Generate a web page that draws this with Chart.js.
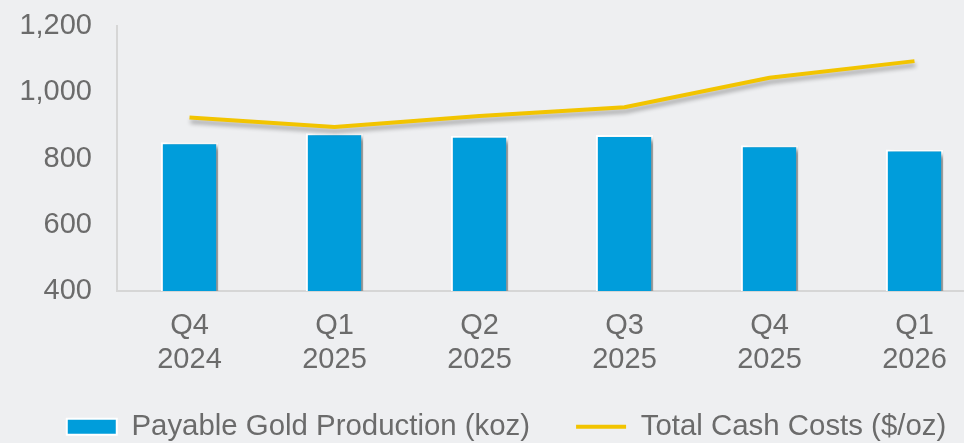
<!DOCTYPE html>
<html>
<head>
<meta charset="utf-8">
<script src="https://cdn.jsdelivr.net/npm/chart.js@4.4.1/dist/chart.umd.min.js"></script>
<style>
  html, body { margin: 0; padding: 0; background: #eeeff1; overflow: hidden; width: 964px; height: 443px; }
  #wrap { position: absolute; left: 0; top: 0; width: 1012px; height: 443px; }
</style>
</head>
<body>
<div id="wrap"><canvas id="c" width="1012" height="443"></canvas></div>
<script>
const categories = [['Q4', '2024'], ['Q1', '2025'], ['Q2', '2025'], ['Q3', '2025'], ['Q4', '2025'], ['Q1', '2026']];
const goldProduction = [849, 876, 869, 871, 840, 827];
const cashCosts = [924, 895, 928, 955, 1044, 1094];
const yTicks = [400, 600, 800, 1000, 1200];

const shadowPlugin = {
  id: 'shadows',
  beforeDatasetDraw(chart, args) {
    const ctx = chart.ctx;
    ctx.save();
    if (args.meta.type === 'bar') {
      ctx.shadowColor = 'rgba(0,0,0,0.45)';
      ctx.shadowBlur = 5;
      ctx.shadowOffsetX = 5;
      ctx.shadowOffsetY = 3;
    } else {
      ctx.shadowColor = 'rgba(0,0,0,0.3)';
      ctx.shadowBlur = 4;
      ctx.shadowOffsetX = 1;
      ctx.shadowOffsetY = 4;
    }
  },
  afterDatasetDraw(chart) {
    chart.ctx.restore();
  }
};

const legendPlace = {
  id: 'legendPlace',
  afterLayout(chart) {
    const lg = chart.legend;
    if (!lg) return;
    lg.top = 366;
    lg.bottom = 443;
    lg.left += 13;
    lg.right += 13;
  }
};

const textColor = '#6b6b6b';
const family = '"Liberation Sans", Arial, sans-serif';

new Chart(document.getElementById('c'), {
  type: 'bar',
  data: {
    labels: categories,
    datasets: [
      {
        type: 'bar',
        label: 'Payable Gold Production (koz)',
        data: goldProduction,
        backgroundColor: '#009ddb',
        borderColor: '#ffffff',
        borderWidth: 2,
        borderSkipped: false,
        barPercentage: 0.395,
        categoryPercentage: 1,
        order: 0
      },
      {
        type: 'line',
        label: 'Total Cash Costs ($/oz)',
        data: cashCosts,
        borderColor: '#f2c400',
        backgroundColor: '#f2c400',
        borderWidth: 4,
        pointRadius: 0,
        tension: 0,
        order: -1
      }
    ]
  },
  plugins: [shadowPlugin, legendPlace],
  options: {
    responsive: false,
    animation: false,
    devicePixelRatio: 1,
    layout: { padding: { top: 26, right: 25, left: 0, bottom: 0 } },
    plugins: {
      tooltip: { enabled: false },
      legend: {
        position: 'bottom',
        maxHeight: 40,
        labels: {
          color: textColor,
          font: { family: family, size: 29.4, lineHeight: 1 },
          usePointStyle: true,
          pointStyleWidth: 50,
          boxHeight: 16,
          padding: 46,
          generateLabels(chart) {
            return chart.data.datasets.map((ds, i) => ({
              text: ds.label,
              fillStyle: ds.backgroundColor,
              strokeStyle: ds.type === 'bar' ? '#ffffff' : ds.borderColor,
              lineWidth: ds.type === 'bar' ? 2 : 4,
              pointStyle: ds.type === 'bar' ? 'rect' : 'line',
              fontColor: textColor,
              hidden: false,
              datasetIndex: i
            }));
          }
        }
      }
    },
    scales: {
      x: {
        grid: { color: 'transparent', drawTicks: false },
        border: { display: true, color: '#d6d6d6', width: 2 },
        ticks: { color: textColor, font: { family: family, size: 29, lineHeight: 1.17 }, padding: 18, maxRotation: 0, autoSkip: false },
        afterFit(scale) { scale.height = 112; }
      },
      y: {
        min: 400,
        max: 1200,
        afterBuildTicks(scale) { scale.ticks = yTicks.map(v => ({ value: v })); },
        grid: { color: 'transparent', drawTicks: false },
        border: { display: true, color: '#d6d6d6', width: 2 },
        ticks: {
          color: textColor,
          font: { family: family, size: 29 },
          padding: 25,
          callback: v => v.toLocaleString('en-US')
        },
        afterFit(scale) { scale.width = 117; scale.paddingTop = 0; scale.paddingBottom = 0; }
      }
    }
  }
});
</script>
</body>
</html>
